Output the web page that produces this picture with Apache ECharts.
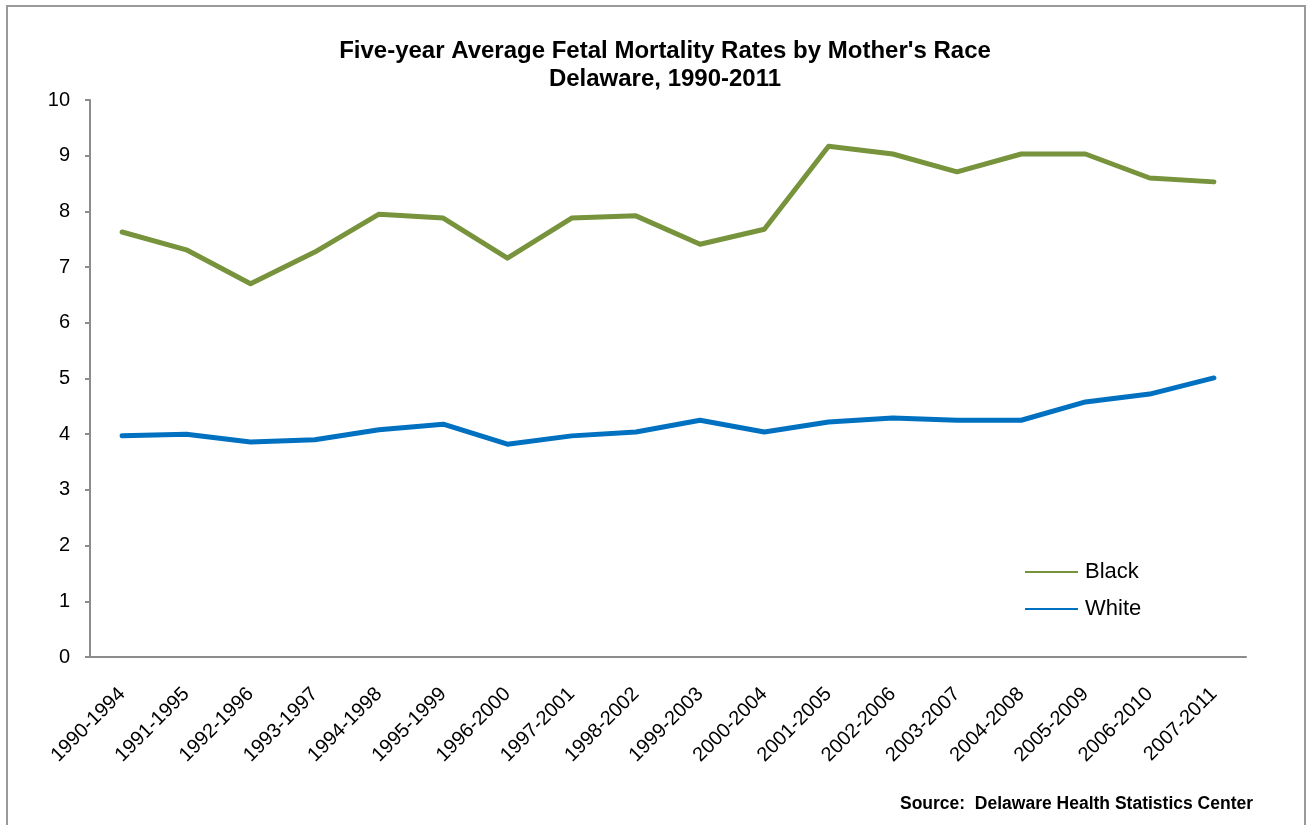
<!DOCTYPE html>
<html>
<head>
<meta charset="utf-8">
<script src="https://cdn.jsdelivr.net/npm/echarts@6/dist/echarts.min.js"></script>
<style>
  html, body { margin: 0; padding: 0; background: #fff; }
  #chart { width: 1307px; height: 825px; }
</style>
</head>
<body>
<div id="chart"></div>
<script>
// Five-year rolling periods
const periods = [
  '1990-1994', '1991-1995', '1992-1996', '1993-1997', '1994-1998', '1995-1999',
  '1996-2000', '1997-2001', '1998-2002', '1999-2003', '2000-2004', '2001-2005',
  '2002-2006', '2003-2007', '2004-2008', '2005-2009', '2006-2010', '2007-2011'
];

// Fetal deaths per 1,000 live births plus fetal deaths
const blackRates = [7.63, 7.31, 6.70, 7.27, 7.95, 7.88, 7.16, 7.88, 7.92, 7.41, 7.68, 9.17, 9.03, 8.71, 9.03, 9.03, 8.60, 8.53];
const whiteRates = [3.97, 4.00, 3.86, 3.90, 4.08, 4.18, 3.82, 3.97, 4.04, 4.25, 4.04, 4.22, 4.29, 4.25, 4.25, 4.58, 4.72, 5.01];

const yTicks = [0, 1, 2, 3, 4, 5, 6, 7, 8, 9, 10];

const FONT = '"Liberation Sans", Arial, sans-serif';
const AXIS_GRAY = '#8c8c8c';

const chart = echarts.init(document.getElementById('chart'), null, { renderer: 'canvas' });

chart.setOption({
  backgroundColor: '#ffffff',
  animation: false,
  title: [
    {
      text: "Five-year Average Fetal Mortality Rates by Mother's Race\nDelaware, 1990-2011",
      left: 665,
      top: 37,
      padding: 0,
      textAlign: 'center',
      textStyle: { fontFamily: FONT, fontWeight: 'bold', fontSize: 24, lineHeight: 28, color: '#000' }
    },
    {
      text: 'Source:  Delaware Health Statistics Center',
      right: 54,
      top: 795,
      padding: 0,
      textStyle: { fontFamily: FONT, fontWeight: 'bold', fontSize: 17.5, lineHeight: 18, color: '#000' }
    }
  ],
  graphic: [
    {
      type: 'rect',
      shape: { x: 7, y: 6, width: 1298, height: 830 },
      style: { fill: 'none', stroke: '#9a9a9a', lineWidth: 2 },
      silent: true
    }
  ],
  legend: {
    orient: 'vertical',
    left: 1025,
    top: 561,
    padding: 0,
    itemGap: 15,
    itemWidth: 53,
    itemHeight: 2,
    icon: 'rect',
    textStyle: { fontFamily: FONT, fontSize: 22, color: '#000', lineHeight: 22, padding: [0, 0, 0, 2] },
    data: ['Black', 'White']
  },
  grid: { left: 90, top: 100, right: 61, bottom: 168, containLabel: false },
  xAxis: {
    type: 'category',
    data: periods,
    boundaryGap: true,
    axisLine: { lineStyle: { color: AXIS_GRAY, width: 2 } },
    axisTick: { alignWithLabel: true, length: 5, lineStyle: { color: AXIS_GRAY, width: 2 } },
    axisLabel: {
      rotate: 45,
      margin: 34,
      fontFamily: FONT,
      fontSize: 20,
      color: '#000',
      interval: 0
    }
  },
  yAxis: {
    type: 'value',
    min: yTicks[0],
    max: yTicks[yTicks.length - 1],
    interval: 1,
    splitLine: { show: false },
    axisLine: { show: true, lineStyle: { color: AXIS_GRAY, width: 2 } },
    axisTick: { show: true, length: 5, lineStyle: { color: AXIS_GRAY, width: 2 } },
    axisLabel: { margin: 20, fontFamily: FONT, fontSize: 20, color: '#000' }
  },
  series: [
    {
      name: 'Black',
      type: 'line',
      data: blackRates,
      showSymbol: false,
      symbol: 'none',
      color: '#77933C',
      lineStyle: { width: 5, color: '#77933C', cap: 'round', join: 'round' }
    },
    {
      name: 'White',
      type: 'line',
      data: whiteRates,
      showSymbol: false,
      symbol: 'none',
      color: '#0070C0',
      lineStyle: { width: 5, color: '#0070C0', cap: 'round', join: 'round' }
    }
  ]
});
</script>
</body>
</html>
